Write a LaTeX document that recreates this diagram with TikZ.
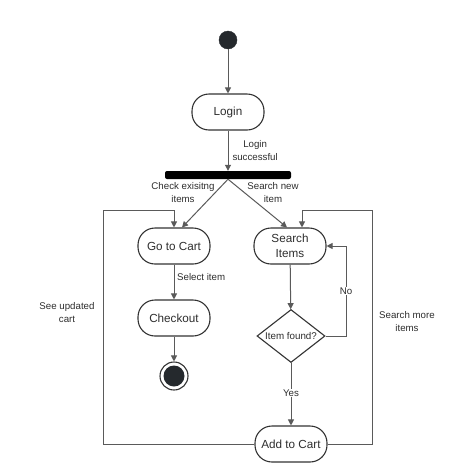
\documentclass[tikz,border=0pt]{standalone}
\usepackage{fontspec}
\setmainfont{Liberation Sans}
\usetikzlibrary{arrows.meta,shapes.geometric,calc}
\definecolor{ln}{HTML}{5A5A5A}
\definecolor{bd}{HTML}{333333}
\definecolor{tx}{HTML}{2E2E2E}
\definecolor{dk}{HTML}{25292D}
\begin{document}
\begin{tikzpicture}[x=1pt,y=1pt,
  state/.style={draw=bd,line width=1.1pt,rounded corners=17pt,minimum width=72pt,minimum height=36pt,inner sep=0pt,align=center,text=tx,font=\fontsize{11.7}{15}\selectfont},
  arr/.style={draw=ln,line width=1pt,-{Triangle[width=6pt,length=6pt]}},
  plain/.style={draw=ln,line width=1pt},
  lbl/.style={text=tx,align=center,font=\fontsize{9.7}{13}\selectfont,inner sep=1pt}]
\useasboundingbox[fill=white] (0,0) rectangle (474,-472);
\node[circle,fill=dk,draw=dk,minimum size=18pt,inner sep=0pt] (start) at (228,-40) {};
\node[state] (login) at (228,-112) {Login};
\node[fill=black,rounded corners=2pt,minimum width=126pt,minimum height=8pt,inner sep=0pt] (fork) at (228,-175) {};
\node[state] (cart) at (174,-246) {Go to Cart};
\node[state] (search) at (290,-246) {Search\\Items};
\node[state] (checkout) at (174,-318) {Checkout};
\node[circle,draw=bd,line width=1.1pt,fill=white,minimum size=28pt,inner sep=0pt] (endo) at (174,-376) {};
\node[circle,fill=dk,minimum size=21pt,inner sep=0pt] (endi) at (endo) {};
\node[diamond,draw=bd,line width=1.1pt,minimum width=68pt,minimum height=53pt,inner sep=0pt] (found) at (291,-336) {};
\node[lbl,font=\fontsize{9.8}{12}\selectfont] (foundtxt) at (found) {Item found?};
\node[state] (add) at (291,-444) {Add to Cart};

\coordinate (lc) at (103,-210);
\coordinate (rc) at (372,-210);
\coordinate (nc) at (346,-336);

\draw[arr] (start) -- (login);
\draw[arr] (login) -- node[lbl,right=3pt,pos=0.5] {Login\\successful} (fork.north);
\draw[arr] (fork.south) -- ([xshift=8pt]cart.north);
\draw[arr] (fork.south) -- ([xshift=-3pt]search.north);
\draw[arr] (cart) -- (checkout);
\draw[arr] (checkout) -- (endo);
\draw[arr] (search) -- (found);
\draw[arr] (found.east) -- (nc) |- (search.east);
\draw[arr] (found.south) -- (add.north);
\draw[arr] (add.west) -| (lc) -| (cart.north);
\draw[arr] (add.east) -| (rc) -| ([xshift=12pt]search.north);

\node[lbl] (l1) at (183,-193) {Check exisitng\\items};
\node[lbl] (l2) at (273,-193) {Search new\\item};
\node[lbl,anchor=west] (l3) at (176,-277) {Select item};
\node[lbl,fill=white] (l4) at (346,-291) {No};
\node[lbl,fill=white] (l5) at (291,-393) {Yes};
\node[lbl] (l6) at (67,-313) {See updated\\cart};
\node[lbl] (l7) at (407,-322) {Search more\\items};
\end{tikzpicture}
\end{document}
